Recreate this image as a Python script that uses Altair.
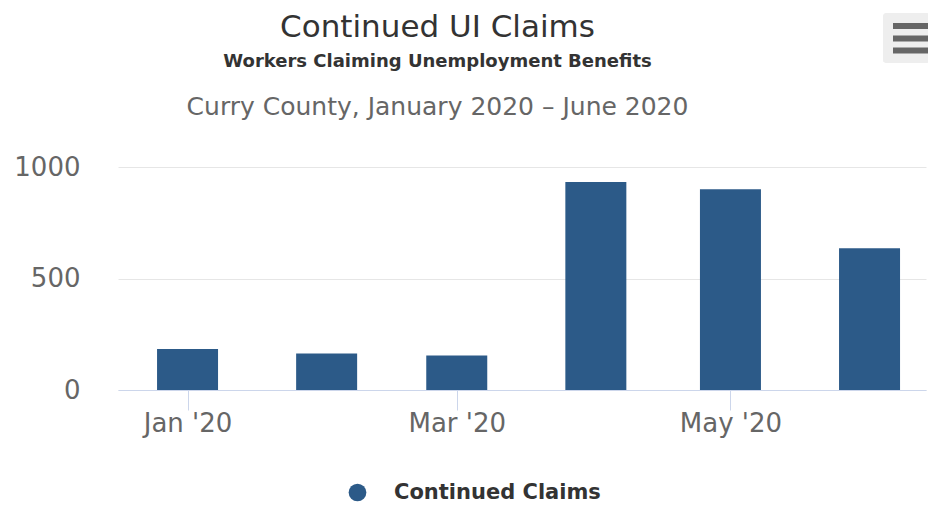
import altair as alt
import pandas as pd

# ---- data ----
months = ["2020-01-01", "2020-02-01", "2020-03-01", "2020-04-01", "2020-05-01", "2020-06-01"]
claims = [184, 164, 155, 933, 900, 636]
series_name = "Continued Claims"

title_text = "Continued UI Claims"
subtitle_text = "Workers Claiming Unemployment Benefits"
area_text = "Curry County, January 2020 \u2013 June 2020"

BAR = "#2c5a88"
FONT = "DejaVu Sans"

df = pd.DataFrame({"month": months, "claims": claims, "series": [series_name] * len(months)})

x_scale = alt.Scale(
    type="utc",
    padding=0,
    domain=[
        alt.DateTime(year=2019, month=12, date=16, hours=12, utc=True),
        alt.DateTime(year=2020, month=6, date=13, hours=14, utc=True),
    ],
)

bars = alt.Chart(df).mark_bar(width=61).encode(
    x=alt.X(
        "month:T",
        scale=x_scale,
        title=None,
        axis=alt.Axis(
            values=[
                alt.DateTime(year=2020, month=1, date=1, utc=True),
                alt.DateTime(year=2020, month=3, date=1, utc=True),
                alt.DateTime(year=2020, month=5, date=1, utc=True),
            ],
            labelExpr="utcFormat(datum.value, \"%b '%y\")",
            grid=False,
            domainColor="#ccd6eb",
            tickColor="#ccd6eb",
            tickSize=20,
            labelFontSize=26,
            labelColor="#666666",
            labelFont=FONT,
            labelPadding=0,
            labelFlush=False,
        ),
    ),
    y=alt.Y(
        "claims:Q",
        scale=alt.Scale(domain=[0, 1000], nice=False),
        title=None,
        axis=alt.Axis(
            values=[0, 500, 1000],
            format="d",
            domain=False,
            ticks=False,
            gridColor="#e6e6e6",
            labelFontSize=26,
            labelColor="#666666",
            labelFont=FONT,
            labelPadding=38,
        ),
    ),
    color=alt.Color(
        "series:N",
        scale=alt.Scale(range=[BAR]),
        legend=alt.Legend(
            title=None,
            orient="none",
            legendX=229,
            legendY=315,
            symbolType="circle",
            symbolSize=314,
            symbolStrokeWidth=0,
            symbolFillColor="#2b5d97",
            labelFont=FONT,
            labelFontSize=21,
            labelFontWeight="bold",
            labelColor="#333333",
            labelOffset=26,
            labelLimit=0,
            padding=0,
        ),
    ),
)

tdf = pd.DataFrame({"a": [1]})

title = alt.Chart(tdf).mark_text(
    text=title_text, font=FONT, fontSize=31, color="#333333", align="center", baseline="alphabetic"
).encode(x=alt.value(319.5), y=alt.value(-130))

subtitle = alt.Chart(tdf).mark_text(
    text=subtitle_text, font=FONT, fontSize=18, fontWeight="bold", color="#333333",
    align="center", baseline="alphabetic"
).encode(x=alt.value(319.5), y=alt.value(-100.5))

area = alt.Chart(tdf).mark_text(
    text=area_text, font=FONT, fontSize=25, color="#666666", align="center", baseline="alphabetic"
).encode(x=alt.value(319.5), y=alt.value(-52))

menu_bg = alt.Chart(tdf).mark_rect(color="#eeeeee", cornerRadius=3).encode(
    x=alt.value(765), x2=alt.value(812), y=alt.value(-154), y2=alt.value(-104)
)
menu_lines = [
    alt.Chart(tdf).mark_rule(color="#666666", strokeWidth=6).encode(
        x=alt.value(775), x2=alt.value(812), y=alt.value(yv)
    )
    for yv in (-141, -128.5, -116.5)
]

chart = alt.layer(bars, title, subtitle, area, menu_bg, *menu_lines).properties(
    width=808,
    height=223,
    autosize=alt.AutoSizeParams(type="none"),
    padding={"left": 110, "top": 159, "right": 2, "bottom": 114},
).configure(background="white").configure_view(stroke=None)

chart.save("out.html", embed_options={"renderer": "svg", "actions": False})
